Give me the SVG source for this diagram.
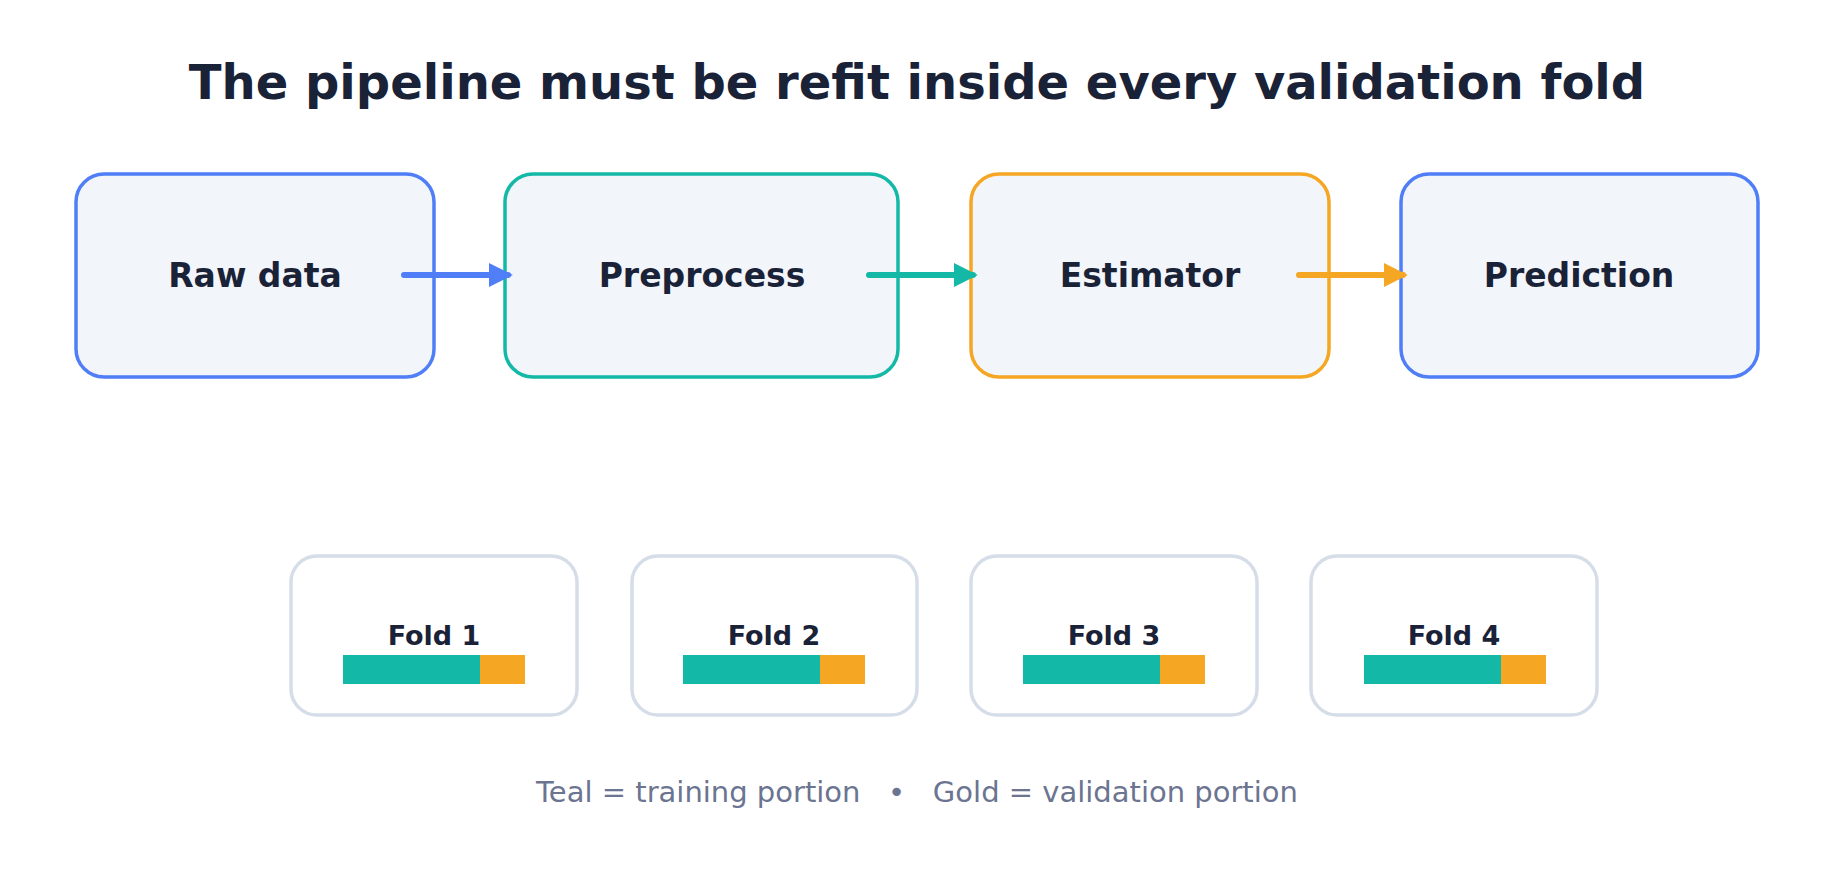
<svg xmlns="http://www.w3.org/2000/svg" width="1834" height="890" viewBox="0 0 1834 890">
<defs>
<style>
text{font-family:"DejaVu Sans",sans-serif;text-anchor:middle;fill:#1a2238}
.t{font-size:48px;font-weight:bold}
.n{font-size:33px;font-weight:bold}
.f{font-size:27px;font-weight:bold}
.l{font-size:29px;fill:#6b7490}
.box{fill:#f2f5fa;stroke-width:3.5}
.fold{fill:#fff;stroke:#d5dde8;stroke-width:3.5}
.c{stroke-width:6;stroke-linecap:round;fill:none}
</style>
<marker id="mb" viewBox="0 0 10 10" refX="8" refY="5" markerWidth="4" markerHeight="4" orient="auto"><path d="M0,0L10,5L0,10z" fill="#4f7ef7"/></marker>
<marker id="mt" viewBox="0 0 10 10" refX="8" refY="5" markerWidth="4" markerHeight="4" orient="auto"><path d="M0,0L10,5L0,10z" fill="#14b8a6"/></marker>
<marker id="mg" viewBox="0 0 10 10" refX="8" refY="5" markerWidth="4" markerHeight="4" orient="auto"><path d="M0,0L10,5L0,10z" fill="#f5a623"/></marker>
</defs>
<rect width="1834" height="890" fill="#fff"/>
<text class="t" x="917" y="99">The pipeline must be refit inside every validation fold</text>
<g id="raw"><rect class="box" x="76" y="174" width="358" height="203" rx="28" stroke="#4f7ef7"/><text class="n" x="255" y="287">Raw data</text></g>
<g id="pre"><rect class="box" x="505" y="174" width="393" height="203" rx="28" stroke="#14b8a6"/><text class="n" x="702" y="287">Preprocess</text></g>
<g id="est"><rect class="box" x="971" y="174" width="358" height="203" rx="28" stroke="#f5a623"/><text class="n" x="1150" y="287">Estimator</text></g>
<g id="pred"><rect class="box" x="1401" y="174" width="357" height="203" rx="28" stroke="#4f7ef7"/><text class="n" x="1579" y="287">Prediction</text></g>
<g id="connectors">
<path class="c" d="M404,275H508" stroke="#4f7ef7" marker-end="url(#mb)"/>
<path class="c" d="M869,275H973" stroke="#14b8a6" marker-end="url(#mt)"/>
<path class="c" d="M1299,275H1403" stroke="#f5a623" marker-end="url(#mg)"/>
</g>
<g id="fold1"><rect class="fold" x="291" y="556" width="286" height="159" rx="26"/><text class="f" x="434" y="645">Fold 1</text><rect x="343" y="655" width="137" height="29" fill="#14b8a6"/><rect x="480" y="655" width="45" height="29" fill="#f5a623"/></g>
<g id="fold2"><rect class="fold" x="632" y="556" width="285" height="159" rx="26"/><text class="f" x="774" y="645">Fold 2</text><rect x="683" y="655" width="137" height="29" fill="#14b8a6"/><rect x="820" y="655" width="45" height="29" fill="#f5a623"/></g>
<g id="fold3"><rect class="fold" x="971" y="556" width="286" height="159" rx="26"/><text class="f" x="1114" y="645">Fold 3</text><rect x="1023" y="655" width="137" height="29" fill="#14b8a6"/><rect x="1160" y="655" width="45" height="29" fill="#f5a623"/></g>
<g id="fold4"><rect class="fold" x="1311" y="556" width="286" height="159" rx="26"/><text class="f" x="1454" y="645">Fold 4</text><rect x="1364" y="655" width="137" height="29" fill="#14b8a6"/><rect x="1501" y="655" width="45" height="29" fill="#f5a623"/></g>
<text class="l" x="917" y="802" xml:space="preserve">Teal = training portion   •   Gold = validation portion</text>
</svg>
